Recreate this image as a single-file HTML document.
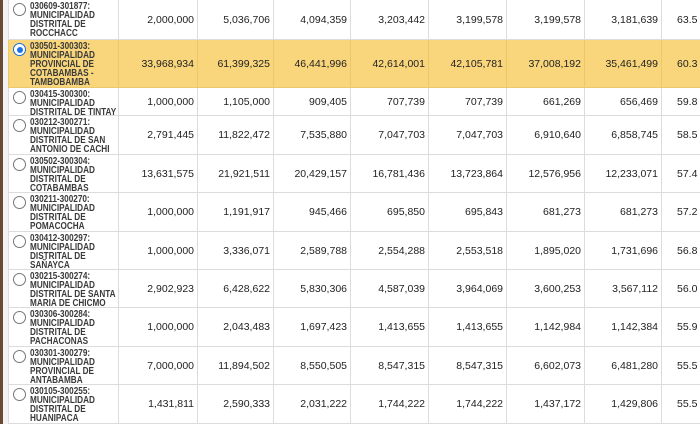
<!DOCTYPE html>
<html><head><meta charset="utf-8"><style>
html,body{margin:0;padding:0;width:700px;height:424px;overflow:hidden;background:#fff}
.lb{position:absolute;left:0;top:0;width:3px;height:424px;background:#6b4a35}
.lb2{position:absolute;left:3px;top:0;width:5px;height:424px;background:#f2f2f2}
table{position:absolute;left:8px;top:-1px;border-collapse:collapse;table-layout:fixed;width:740px;font-family:"Liberation Sans",Arial,sans-serif;font-size:10.5px;color:#333}
td{border:1px solid #dcdcdc;padding:0 3px 0 0;text-align:right;vertical-align:middle;overflow:hidden;white-space:nowrap;font-weight:normal;color:#222}
td.n{text-align:left;padding:0;position:relative;white-space:nowrap;font-weight:bold;color:#3a3a3a;line-height:9px;font-size:10.5px;vertical-align:top}
td.n div{position:absolute;left:21px;top:2px;transform:scaleX(0.78);transform-origin:0 0}
td.l{text-align:left;padding-left:15px}
.r{position:absolute;left:4px;top:3px;width:11px;height:11px;border:1px solid #777;border-radius:50%;background:#fff}
tr.s td{background:#f9d67c;border-color:#e9c86e}
tr.s .r{border-color:#1a6fd6}
tr.s .r:after{content:"";position:absolute;left:2.5px;top:2.5px;width:6px;height:6px;border-radius:50%;background:#1a73e8}
</style></head><body>
<div class="lb"></div><div class="lb2"></div>
<table>
<colgroup><col style="width:110px"><col style="width:79px"><col style="width:76px"><col style="width:77px"><col style="width:78px"><col style="width:78px"><col style="width:78px"><col style="width:77px"><col style="width:87px"></colgroup>
<tr style="height:40px"><td class="n"><span class="r"></span><div>030609-301877:<br>MUNICIPALIDAD<br>DISTRITAL DE<br>ROCCHACC</div></td><td>2,000,000</td><td>5,036,706</td><td>4,094,359</td><td>3,203,442</td><td>3,199,578</td><td>3,199,578</td><td>3,181,639</td><td class="l">63.5</td></tr>
<tr class="s" style="height:48px"><td class="n"><span class="r"></span><div>030501-300303:<br>MUNICIPALIDAD<br>PROVINCIAL DE<br>COTABAMBAS -<br>TAMBOBAMBA</div></td><td>33,968,934</td><td>61,399,325</td><td>46,441,996</td><td>42,614,001</td><td>42,105,781</td><td>37,008,192</td><td>35,461,499</td><td class="l">60.3</td></tr>
<tr style="height:28px"><td class="n"><span class="r"></span><div>030415-300300:<br>MUNICIPALIDAD<br>DISTRITAL DE TINTAY</div></td><td>1,000,000</td><td>1,105,000</td><td>909,405</td><td>707,739</td><td>707,739</td><td>661,269</td><td>656,469</td><td class="l">59.8</td></tr>
<tr style="height:39px"><td class="n"><span class="r"></span><div>030212-300271:<br>MUNICIPALIDAD<br>DISTRITAL DE SAN<br>ANTONIO DE CACHI</div></td><td>2,791,445</td><td>11,822,472</td><td>7,535,880</td><td>7,047,703</td><td>7,047,703</td><td>6,910,640</td><td>6,858,745</td><td class="l">58.5</td></tr>
<tr style="height:38px"><td class="n"><span class="r"></span><div>030502-300304:<br>MUNICIPALIDAD<br>DISTRITAL DE<br>COTABAMBAS</div></td><td>13,631,575</td><td>21,921,511</td><td>20,429,157</td><td>16,781,436</td><td>13,723,864</td><td>12,576,956</td><td>12,233,071</td><td class="l">57.4</td></tr>
<tr style="height:39px"><td class="n"><span class="r"></span><div>030211-300270:<br>MUNICIPALIDAD<br>DISTRITAL DE<br>POMACOCHA</div></td><td>1,000,000</td><td>1,191,917</td><td>945,466</td><td>695,850</td><td>695,843</td><td>681,273</td><td>681,273</td><td class="l">57.2</td></tr>
<tr style="height:38px"><td class="n"><span class="r"></span><div>030412-300297:<br>MUNICIPALIDAD<br>DISTRITAL DE<br>SAÑAYCA</div></td><td>1,000,000</td><td>3,336,071</td><td>2,589,788</td><td>2,554,288</td><td>2,553,518</td><td>1,895,020</td><td>1,731,696</td><td class="l">56.8</td></tr>
<tr style="height:38px"><td class="n"><span class="r"></span><div>030215-300274:<br>MUNICIPALIDAD<br>DISTRITAL DE SANTA<br>MARIA DE CHICMO</div></td><td>2,902,923</td><td>6,428,622</td><td>5,830,306</td><td>4,587,039</td><td>3,964,069</td><td>3,600,253</td><td>3,567,112</td><td class="l">56.0</td></tr>
<tr style="height:39px"><td class="n"><span class="r"></span><div>030306-300284:<br>MUNICIPALIDAD<br>DISTRITAL DE<br>PACHACONAS</div></td><td>1,000,000</td><td>2,043,483</td><td>1,697,423</td><td>1,413,655</td><td>1,413,655</td><td>1,142,984</td><td>1,142,384</td><td class="l">55.9</td></tr>
<tr style="height:38px"><td class="n"><span class="r"></span><div>030301-300279:<br>MUNICIPALIDAD<br>PROVINCIAL DE<br>ANTABAMBA</div></td><td>7,000,000</td><td>11,894,502</td><td>8,550,505</td><td>8,547,315</td><td>8,547,315</td><td>6,602,073</td><td>6,481,280</td><td class="l">55.5</td></tr>
<tr style="height:39px"><td class="n"><span class="r"></span><div>030105-300255:<br>MUNICIPALIDAD<br>DISTRITAL DE<br>HUANIPACA</div></td><td>1,431,811</td><td>2,590,333</td><td>2,031,222</td><td>1,744,222</td><td>1,744,222</td><td>1,437,172</td><td>1,429,806</td><td class="l">55.5</td></tr>
</table>
</body></html>
